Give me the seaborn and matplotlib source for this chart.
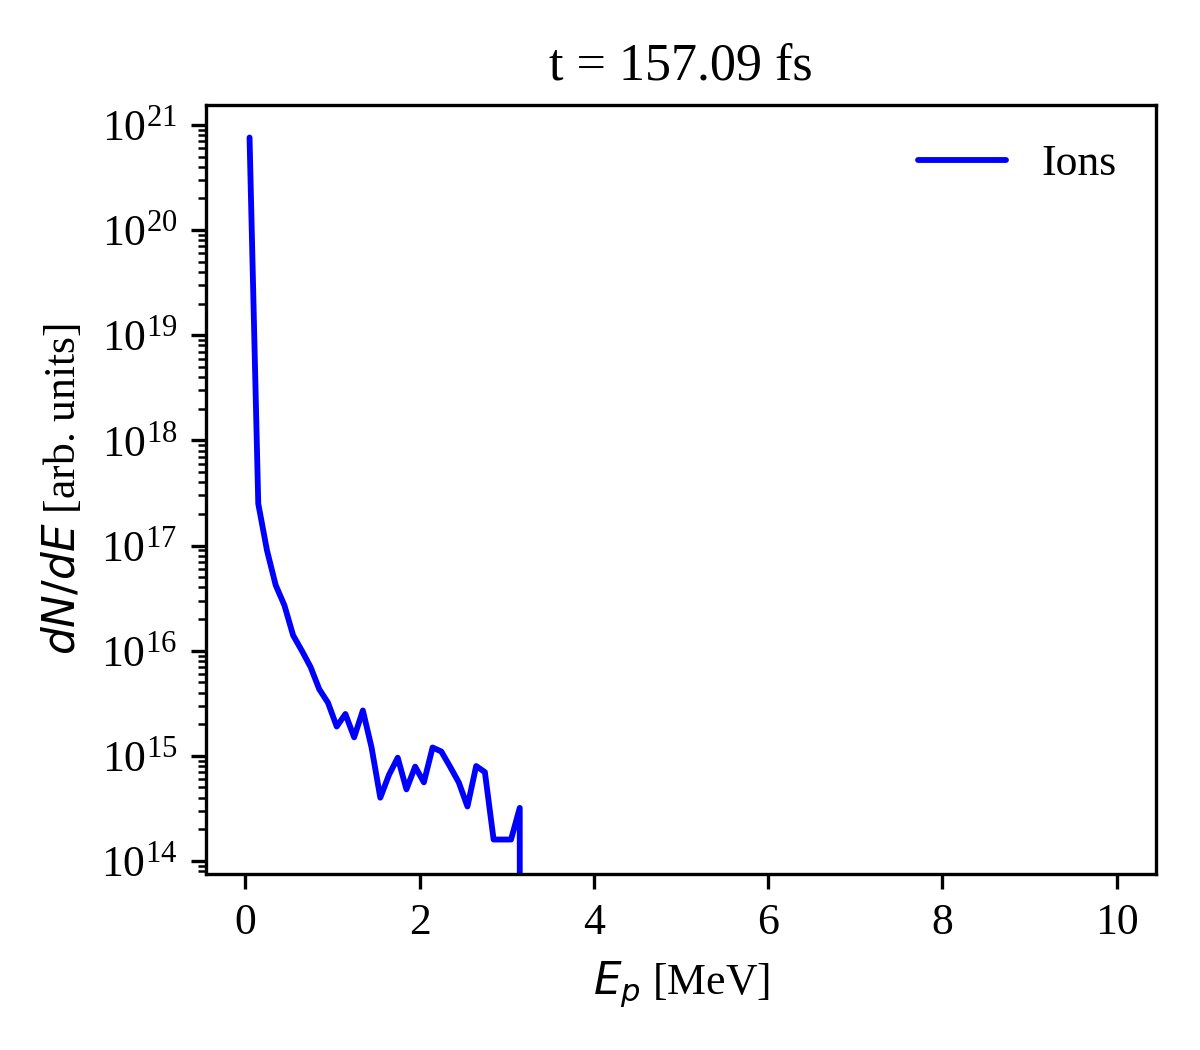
import matplotlib
matplotlib.use('Agg')
import matplotlib.pyplot as plt
import numpy as np
import pandas as pd
import seaborn as sns

sns.set_style("ticks")
plt.rcParams['font.family'] = ['Liberation Serif', 'DejaVu Sans']
plt.rcParams['mathtext.default'] = 'regular'
for k in ['text.color', 'axes.labelcolor', 'xtick.color', 'ytick.color', 'axes.edgecolor']:
    plt.rcParams[k] = 'black'

# Bin centres in MeV (0.1 MeV bins)
energy = [round(0.05 + 0.1 * i, 2) for i in range(100)]
# Ion spectrum; zeros above 3.2 MeV
counts_nonzero = [7.6e20, 2.5e17, 9e16, 4.2e16, 2.7e16, 1.4e16, 1e16, 7e15, 4.3e15, 3.2e15,
                  1.9e15, 2.5e15, 1.5e15, 2.7e15, 1.2e15, 4e14, 6.6e14, 9.6e14, 4.8e14, 7.9e14,
                  5.6e14, 1.2e15, 1.1e15, 7.9e14, 5.6e14, 3.3e14, 8e14, 7e14, 1.6e14, 1.6e14,
                  1.6e14, 3.2e14]
counts = counts_nonzero + [0.0] * (len(energy) - len(counts_nonzero))

df = pd.DataFrame({'E': energy, 'dNdE': counts})

fig, ax = plt.subplots(figsize=(4, 3.5), dpi=300)
ax.set_yscale('log')
sns.lineplot(data=df, x='E', y='dNdE', color='blue', label='Ions', ax=ax, linewidth=1.4)
ax.set_ylim(10**13.88, 10**21.19)
ax.set_xticks([0, 2, 4, 6, 8, 10])
ax.set_xlabel(r'$\mathit{E_p}$ [MeV]', fontsize=10.5)
ax.set_ylabel(r'$\mathit{dN/dE}$ [arb. units]', fontsize=10.5)
ax.set_title('t = 157.09 fs', fontsize=12.5)
ax.tick_params(labelsize=10.5)
for s in ax.spines.values():
    s.set_linewidth(0.8)
ax.legend(frameon=False, fontsize=10.5, loc='upper right')
plt.subplots_adjust(left=0.172, right=0.963, top=0.9, bottom=0.168)
plt.savefig('out.png', dpi=300)
